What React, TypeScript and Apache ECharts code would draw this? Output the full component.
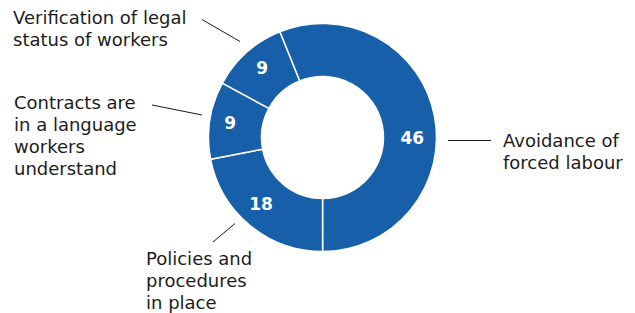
import React, { useEffect, useRef } from "react";
import * as echarts from "echarts";

const categories = [
  "Avoidance of\nforced labour",
  "Policies and\nprocedures\nin place",
  "Contracts are\nin a language\nworkers\nunderstand",
  "Verification of legal\nstatus of workers",
];
const values = [46, 18, 9, 9];

// outside label blocks (left, top) and leader lines
const labelPos: [number, number][] = [
  [503, 129],
  [146, 247],
  [14, 91],
  [13, 6.5],
];
const leaderLines: [number, number][][] = [
  [[448, 140.5], [491, 140.5]],
  [[235, 223.5], [213, 242]],
  [[202, 115], [152, 105]],
  [[240, 41.5], [202, 19.5]],
];
const innerShift: [number, number][] = [
  [1, 18],
  [-4, -3],
  [-3, -1],
  [0, -2],
];

const BLUE = "#1760a9";
const FONT = "'DejaVu Sans', sans-serif";

export default function App() {
  const ref = useRef<HTMLDivElement>(null);
  useEffect(() => {
    document.body.style.margin = "0";
    const chart = echarts.init(ref.current!, null, { renderer: "svg" });
    const data = categories.map((name, i) => ({ name, value: values[i] }));
    chart.setOption({
      animation: false,
      backgroundColor: "#fff",
      series: [
        {
          type: "pie",
          center: [322.5, 137.5],
          radius: [61, 114],
          startAngle: 112,
          clockwise: true,
          avoidLabelOverlap: false,
          silent: true,
          data,
          itemStyle: { color: BLUE, borderColor: "#fff", borderWidth: 1.5 },
          label: {
            show: true,
            position: "outside",
            formatter: "{b}",
            color: "#1c1c1c",
            fontFamily: FONT,
            fontSize: 18,
            lineHeight: 22,
            align: "left",
          },
          labelLine: { show: true, lineStyle: { color: "#1c1c1c", width: 1 } },
          labelLayout: (p: any) => {
            const i = p.dataIndex;
            return {
              x: labelPos[i][0],
              y: labelPos[i][1],
              align: "left",
              verticalAlign: "top",
              labelLinePoints: leaderLines[i],
            };
          },
        },
        {
          type: "pie",
          center: [322.5, 137.5],
          radius: [61, 114],
          startAngle: 112,
          clockwise: true,
          silent: true,
          data,
          itemStyle: { color: "transparent", borderWidth: 0 },
          label: {
            show: true,
            position: "inside",
            formatter: "{c}",
            color: "#fff",
            fontFamily: FONT,
            fontWeight: "bold",
            fontSize: 17,
          },
          labelLine: { show: false },
          labelLayout: (p: any) => ({
            dx: innerShift[p.dataIndex][0],
            dy: innerShift[p.dataIndex][1],
          }),
        },
      ],
    });
    return () => chart.dispose();
  }, []);
  return <div ref={ref} style={{ width: 635, height: 313 }} />;
}
